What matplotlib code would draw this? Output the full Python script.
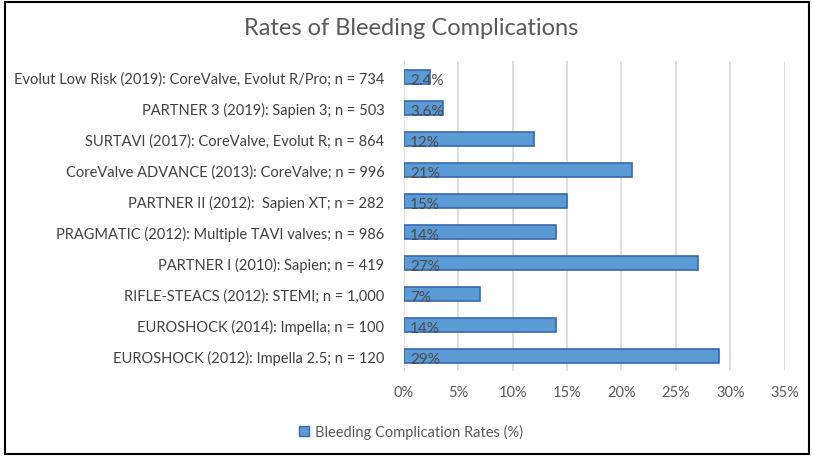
import matplotlib
matplotlib.use("Agg")
import matplotlib.pyplot as plt
from matplotlib.patches import Rectangle, Patch

plt.rcParams['font.family'] = ['Lato', 'DejaVu Sans']

categories = [
    "Evolut Low Risk (2019): CoreValve, Evolut R/Pro; n = 734",
    "PARTNER 3 (2019): Sapien 3; n = 503",
    "SURTAVI (2017): CoreValve, Evolut R; n = 864",
    "CoreValve ADVANCE (2013): CoreValve; n = 996",
    "PARTNER II (2012):  Sapien XT; n = 282",
    "PRAGMATIC (2012): Multiple TAVI valves; n = 986",
    "PARTNER I (2010): Sapien; n = 419",
    "RIFLE-STEACS (2012): STEMI; n = 1,000",
    "EUROSHOCK (2014): Impella; n = 100",
    "EUROSHOCK (2012): Impella 2.5; n = 120",
]
values = [2.4, 3.6, 12, 21, 15, 14, 27, 7, 14, 29]
value_labels = ["2.4%", "3.6%", "12%", "21%", "15%", "14%", "27%", "7%", "14%", "29%"]
xticks = [0, 5, 10, 15, 20, 25, 30, 35]
series_name = "Bleeding Complication Rates (%)"
title = "Rates of Bleeding Complications"

text_color = "#595959"
bar_color = "#5B9BD5"
edge_color = "#3A68B0"

fig = plt.figure(figsize=(8.14, 4.6), dpi=100)
ax = fig.add_axes([0.496, 0.191, 0.468, 0.674])

y = list(range(len(categories)))
ax.barh(y, values, height=0.45, color=bar_color, edgecolor=edge_color, linewidth=1.2, zorder=3)
for yi, v, lab in zip(y, values, value_labels):
    ax.text(0.6, yi + 0.1, lab, va='center', ha='left', fontsize=11, color="#4a4a4a", zorder=4)

ax.set_ylim(len(categories) - 0.5, -0.5)
ax.set_xlim(0, 35)
ax.set_xticks(xticks)
ax.set_xticklabels([f"{t}%" for t in xticks], fontsize=10.5, color=text_color)
ax.set_yticks(y)
ax.set_yticklabels(categories, fontsize=10.5, color="#404040")
ax.tick_params(axis='both', length=0, pad=10)
ax.tick_params(axis='y', pad=14)
ax.grid(axis='x', color="#D9D9D9", linewidth=1.2, zorder=0)
for s in ax.spines.values():
    s.set_visible(False)

fig.text(0.505, 0.938, title, ha='center', va='center', fontsize=17, color=text_color)

handle = Patch(facecolor=bar_color, edgecolor=edge_color, linewidth=1)
fig.legend([handle], [series_name], loc='center', bbox_to_anchor=(0.505, 0.06),
           frameon=False, fontsize=10.5, labelcolor=text_color,
           handlelength=0.7, handleheight=0.7, handletextpad=0.4)

fig.patches.append(Rectangle((0.006, 0.01), 0.988, 0.983, transform=fig.transFigure,
                             fill=False, edgecolor='black', linewidth=1.5))

fig.savefig("out.png", dpi=100)
